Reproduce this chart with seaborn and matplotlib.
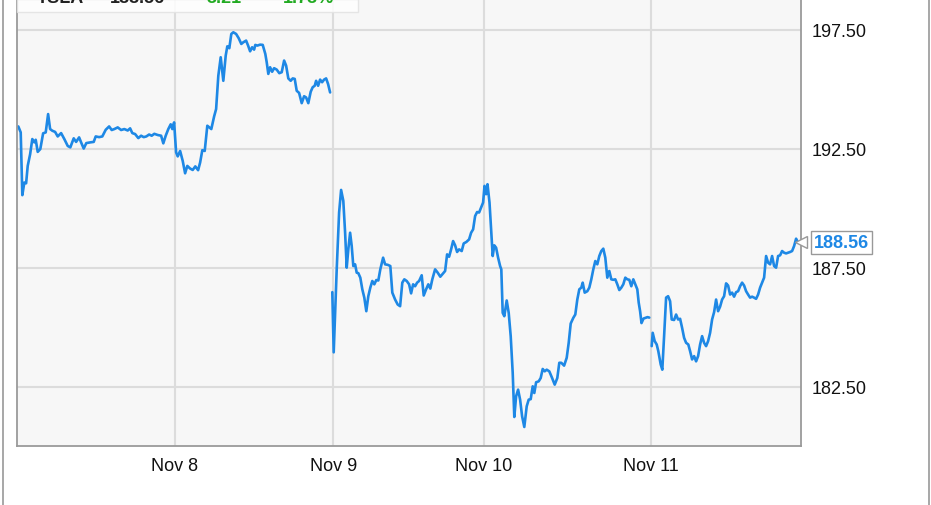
import numpy as np
import pandas as pd
import matplotlib.pyplot as plt
import seaborn as sns
from matplotlib.patches import Rectangle
from matplotlib.lines import Line2D

# TSLA intraday, x = 5-min bar index over the window, y = price (USD)
# the feed has two small holes, so the line comes in three runs
bars_a = [0.5, 1.7, 2.5, 3.5, 4.4, 5.2, 6.4, 7.5, 8.5, 9.2,
          10.2, 11.5, 12.9, 14.2, 15.4, 16.4, 17.5, 18.9, 20.2, 21.9,
          23.5, 25.2, 26.5, 28.2, 29.4, 30.9, 31.9, 33.2, 34.5, 36.5,
          38.2, 39.2, 40.9, 42.5, 44.2, 45.9, 47.2, 48.5, 50.2, 51.9,
          53.5, 55.2, 56.4, 57.5, 58.9, 60.5, 61.9, 63.2, 64.5, 65.9,
          67.2, 68.5, 70.2, 71.9, 73.0, 74.2, 75.5, 76.7, 77.5, 78.4,
          79.4, 80.2, 81.4, 82.7, 83.9, 85.0, 86.4, 87.7, 89.0, 90.4,
          91.4, 92.5, 93.7, 95.0, 96.0, 97.0, 98.4, 99.4, 100.5, 101.7,
          103.0, 104.2, 105.0, 106.0, 107.0, 108.0, 109.4, 110.7, 112.0, 113.0,
          114.4, 115.4, 116.4, 117.4, 118.4, 119.0, 120.0, 121.4, 122.7, 124.0,
          124.7, 125.5, 126.4, 127.4, 128.4, 129.7, 131.0, 132.2, 133.4, 134.4,
          135.5, 136.7, 137.7, 138.7, 139.7, 140.9, 142.2, 143.4, 144.4, 145.5,
          146.7, 147.7, 148.7, 149.4, 150.4, 151.4, 152.4, 153.4, 154.4, 155.4,
          156.4]
price_a = [193.44, 193.19, 190.55, 191.08, 191.05, 191.78, 192.27, 192.91, 192.77, 192.88,
           192.37, 192.49, 193.15, 193.19, 193.96, 193.33, 193.26, 193.21, 193.02, 193.16,
           192.91, 192.62, 192.56, 192.94, 192.79, 192.98, 192.77, 192.51, 192.74, 192.77,
           192.79, 193.02, 192.99, 193.02, 193.30, 193.44, 193.29, 193.33, 193.40, 193.29,
           193.33, 193.27, 193.36, 193.16, 193.12, 192.95, 193.05, 192.99, 193.02, 193.10,
           193.05, 193.13, 193.08, 193.05, 192.73, 193.05, 193.33, 193.53, 193.33, 193.61,
           192.35, 192.18, 192.41, 191.99, 191.47, 191.78, 191.67, 191.61, 191.76, 191.60,
           191.92, 192.44, 192.41, 193.47, 193.40, 193.33, 193.86, 194.17, 195.57, 196.35,
           195.36, 196.42, 196.81, 196.73, 197.33, 197.40, 197.33, 197.15, 196.91, 196.98,
           197.05, 196.84, 196.60, 196.77, 196.67, 196.87, 196.84, 196.88, 196.87, 196.49,
           196.14, 195.65, 195.93, 195.74, 195.89, 195.83, 195.68, 195.72, 196.21, 196.00,
           195.46, 195.36, 195.46, 195.44, 194.94, 194.85, 194.42, 194.71, 194.66, 194.42,
           194.90, 195.09, 195.15, 195.36, 195.15, 195.41, 195.30, 195.41, 195.46, 195.22,
           194.87]

bars_b = [157.5, 158.2, 159.7, 160.9, 161.9, 163.0, 163.9, 164.7, 165.5, 166.4,
          167.2, 168.0, 168.9, 169.7, 170.5, 171.5, 172.5, 173.5, 174.5, 175.5,
          176.5, 177.5, 178.5, 179.5, 180.5, 181.5, 182.9, 183.9, 185.2, 186.5,
          187.5, 188.9, 190.2, 191.4, 192.5, 193.5, 194.7, 195.9, 196.9, 197.9,
          198.9, 199.9, 200.9, 202.2, 203.2, 204.4, 205.5, 206.5, 207.5, 208.9,
          210.2, 211.5, 212.9, 213.9, 214.9, 215.9, 216.9, 217.9, 218.9, 219.9,
          220.9, 222.2, 223.2, 224.5, 225.9, 226.9, 227.9, 228.9, 229.9, 230.9,
          232.2, 232.9, 233.6, 234.4, 235.1, 236.1, 236.9, 237.7, 238.5, 239.4,
          240.4, 241.4, 242.0, 242.7, 243.5, 244.7, 245.7, 246.7, 247.7, 248.5,
          249.4, 250.4, 251.4, 252.4, 253.5, 254.7, 255.7, 256.7, 257.7, 258.5,
          259.4, 260.7, 261.7, 262.7, 263.7, 264.7, 266.0, 267.4, 268.7, 270.0,
          271.0, 272.0, 273.4, 274.7, 275.7, 276.7, 278.0, 279.0, 280.0, 281.0,
          282.0, 282.7, 283.7, 285.0, 286.0, 287.0, 288.0, 289.0, 290.0, 291.0,
          292.0, 293.0, 294.0, 295.0, 296.0, 297.0, 298.0, 299.0, 300.0, 301.0,
          302.0, 303.0, 304.0, 305.0, 306.0, 307.0, 308.0, 309.0, 310.0, 310.7,
          311.4, 312.1, 313.1, 314.1, 315.1, 316.0]
price_b = [186.47, 183.94, 187.43, 189.82, 190.77, 190.31, 188.97, 187.50, 188.27, 188.97,
           188.41, 187.57, 187.64, 187.29, 187.27, 187.08, 186.59, 186.24, 185.67, 186.30,
           186.66, 186.94, 186.80, 186.98, 186.96, 187.43, 187.92, 187.64, 187.62, 187.57,
           186.45, 186.16, 185.95, 185.88, 186.87, 187.01, 186.94, 186.80, 186.42, 186.80,
           186.72, 186.87, 186.94, 187.18, 186.33, 186.59, 186.80, 186.62, 187.01, 187.43,
           187.29, 187.12, 187.26, 187.36, 188.06, 187.96, 188.27, 188.62, 188.44, 188.16,
           188.27, 188.20, 188.52, 188.58, 188.69, 188.97, 189.11, 189.67, 189.84, 189.82,
           190.10, 190.24, 190.94, 190.59, 191.01, 190.24, 189.11, 187.99, 188.44, 188.34,
           187.92, 187.57, 187.43, 185.60, 185.46, 186.12, 185.60, 184.62, 183.08, 181.22,
           182.09, 182.37, 181.95, 181.25, 180.80, 181.67, 181.95, 181.97, 182.51, 182.23,
           182.68, 182.72, 182.86, 183.24, 183.14, 183.21, 183.14, 182.86, 182.58, 182.86,
           183.50, 183.50, 183.38, 183.71, 184.34, 185.15, 185.39, 185.53, 186.16, 186.59,
           186.66, 186.87, 186.45, 186.51, 186.66, 187.01, 187.43, 187.78, 187.64, 187.99,
           188.20, 188.30, 187.92, 187.08, 187.36, 187.01, 186.99, 187.01, 186.80, 186.56,
           186.66, 186.80, 187.08, 187.01, 186.99, 186.72, 187.01, 186.80, 186.59, 186.03,
           185.67, 185.17, 185.36, 185.39, 185.42, 185.40]

bars_c = [317.2, 317.7, 318.7, 319.7, 320.5, 321.7, 322.5, 323.4, 324.4, 325.4,
          326.4, 327.2, 328.4, 329.4, 330.4, 331.4, 332.4, 333.4, 334.4, 335.5,
          336.4, 337.4, 338.4, 339.4, 340.4, 341.4, 342.4, 343.4, 344.4, 345.4,
          346.4, 347.4, 348.4, 349.4, 350.4, 351.4, 352.4, 353.4, 354.4, 355.4,
          356.4, 357.4, 358.4, 359.4, 360.4, 361.4, 362.4, 363.4, 364.4, 365.4,
          366.4, 367.4, 368.4, 369.4, 370.4, 371.4, 372.4, 373.4, 374.4, 375.4,
          376.4, 377.4, 378.4, 379.4, 380.4, 381.4, 382.4, 383.4, 384.4, 385.4,
          386.4, 387.4, 388.4, 389.4, 390.4, 391.4]
price_c = [184.20, 184.76, 184.41, 184.27, 183.99, 183.43, 183.21, 184.62, 186.24, 186.30,
           186.09, 185.32, 185.30, 185.53, 185.32, 185.35, 184.97, 184.55, 184.34, 184.27,
           183.99, 183.64, 183.78, 183.56, 183.78, 184.27, 184.62, 184.34, 184.20, 184.41,
           184.76, 185.32, 185.63, 186.16, 185.67, 185.86, 186.16, 186.30, 186.84, 186.75,
           186.37, 186.45, 186.28, 186.47, 186.51, 186.72, 186.87, 186.75, 186.51, 186.37,
           186.24, 186.28, 186.24, 186.19, 186.37, 186.66, 186.87, 187.08, 187.99, 187.71,
           187.64, 187.99, 187.57, 187.50, 187.99, 188.02, 188.20, 188.13, 188.10, 188.13,
           188.16, 188.20, 188.41, 188.72, 188.55, 188.56]

day_ticks = [78.6, 158.0, 233.4, 316.9]
day_labels = ["Nov 8", "Nov 9", "Nov 10", "Nov 11"]
price_ticks = [182.5, 187.5, 192.5, 197.5]
last_price = 188.56
quote_black = ["TSLA", "188.56"]
quote_green = ["3.21", "1.73%"]

runs = [(bars_a, price_a), (bars_b, price_b), (bars_c, price_c)]
df = pd.concat([pd.DataFrame({"bar": b, "price": p, "run": i}) for i, (b, p) in enumerate(runs)])

sns.set_style("white")
plt.rcParams["font.family"] = ["Liberation Sans", "DejaVu Sans"]

fig = plt.figure(figsize=(9.31, 5.06), dpi=100)
ax = fig.add_axes([0.0186, 0.1166, 0.8423, 0.8834])
ax.set_facecolor("#f7f7f7")
ax.set_axisbelow(True)

sns.lineplot(data=df, x="bar", y="price", units="run", estimator=None,
             color="#1e88e5", lw=1.9, legend=False, ax=ax)

ax.set_xlim(0, 392.1)
ax.set_ylim(180.0, 198.8)
ax.set_xticks(day_ticks, day_labels)
ax.set_yticks(price_ticks, [f"{v:.2f}" for v in price_ticks])
ax.yaxis.tick_right()
ax.grid(True, color="#dcdcdc", lw=1.5)
ax.tick_params(length=0, labelsize=13, colors="#111111")
ax.tick_params(axis="y", pad=7)
ax.tick_params(axis="x", pad=8)
ax.set_xlabel("")
ax.set_ylabel("")
for s in ["left", "right", "bottom"]:
    ax.spines[s].set_color("#9a9a9a")
    ax.spines[s].set_linewidth(1.3)
ax.spines["top"].set_visible(False)

# last price tag on the right axis
ax.plot([1.0], [last_price], marker="<", ms=9, mfc="white", mec="#999999", mew=1,
        transform=ax.get_yaxis_transform(), clip_on=False, zorder=4)
ax.annotate(f"{last_price:.2f}", xy=(1.0, last_price), xycoords=ax.get_yaxis_transform(),
            xytext=(9, 0), textcoords="offset points", ha="left", va="center",
            fontsize=13, fontweight="bold", color="#1e88e5", zorder=5,
            bbox=dict(boxstyle="square,pad=0.18", fc="white", ec="#999999", lw=1))

# quote strip at top left, mostly cut off in the source
fig.add_artist(Rectangle((0.0186, 1 - 13 / 506), 0.366, 13 / 506, transform=fig.transFigure,
                         fc="white", ec="#e2e2e2", lw=1, alpha=0.85, zorder=3))
for x, t in zip([0.040, 0.118], quote_black):
    fig.text(x, 0.9935, t, fontsize=13, fontweight="bold", color="#222222", va="baseline", zorder=4)
for x, t in zip([0.222, 0.304], quote_green):
    fig.text(x, 0.9935, t, fontsize=13, fontweight="bold", color="#22aa22", va="baseline", zorder=4)

# outer frame
for xf in [2.5 / 931, 928.5 / 931]:
    fig.add_artist(Line2D([xf, xf], [0, 1], transform=fig.transFigure, color="#a0a0a0", lw=1.3))

plt.savefig("out.png", dpi=100)
